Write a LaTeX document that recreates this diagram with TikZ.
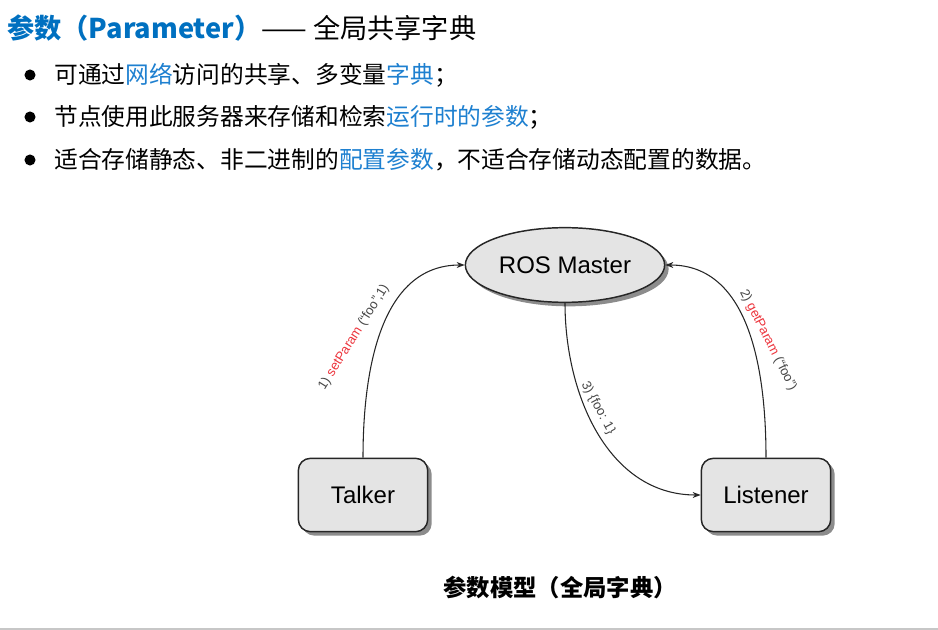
\documentclass[tikz,border=0pt]{standalone}
\usepackage{fontspec}
\setmainfont{Liberation Sans}
\newfontfamily\cjk{Noto Sans CJK SC}
\definecolor{main}{RGB}{0, 112, 192}
\definecolor{hilite}{RGB}{30, 128, 208}
\definecolor{shade}{RGB}{228, 228, 228}
\definecolor{redtxt}{RGB}{236, 52, 60}
\definecolor{lbltxt}{RGB}{70, 70, 70}
\usetikzlibrary{shapes.geometric, arrows.meta, positioning, shadows}

\begin{document}
\begin{tikzpicture}[
        x=0.75pt, y=-0.75pt,
        box/.style={draw=black!85, line width=1.1pt, rounded corners=9pt, fill=shade, minimum width=97pt, minimum height=55pt, font=\fontsize{18}{20}\selectfont, drop shadow={shadow xshift=3pt, shadow yshift=-3pt, opacity=0.45, fill=black}},
        oval/.style={box, ellipse, rounded corners=0pt, minimum width=135pt, minimum height=56pt},
        arr/.style={-{Stealth[length=6pt, width=4.5pt]}, line width=0.8pt, black!85},
        lbl/.style={font=\fontsize{9.8}{11}\selectfont, text=lbltxt, inner sep=0pt},
        txt/.style={anchor=west, inner sep=0pt, font=\cjk\fontsize{17.8}{20}\selectfont},
        dot/.style={circle, fill=black, inner sep=0pt, minimum size=8.3pt}
    ]
        \useasboundingbox (0,0) rectangle (938,630);
        \fill[black!22] (0,628) rectangle (938,630);
        % heading and list
        \node[txt, font=\cjk\fontsize{20.4}{24}\selectfont] (title) at (7,28) {\textcolor{main}{\bfseries 参数（Parameter）}—— 全局共享字典};
        \foreach \y/\item [count=\i] in {
            75/{可通过\textcolor{hilite}{网络}访问的共享、多变量\textcolor{hilite}{字典}；},
            117/{节点使用此服务器来存储和检索\textcolor{hilite}{运行时的参数}；},
            160/{适合存储静态、非二进制的\textcolor{hilite}{配置参数}，不适合存储动态配置的数据。}} {
            \node[dot] (dot\i) at (30,\y) {};
            \node[txt] (item\i) at (54,\y) {\item};
        }
        % parameter model
        \node[oval] (master) at (565,265) {ROS Master};
        \node[box] (talker) at (363,495) {Talker};
        \node[box] (listener) at (766,495) {Listener};
        \draw[arr] (talker.north) to[out=90, in=180] (master.west);
        \draw[arr] (listener.north) to[out=90, in=0] (master.east);
        \draw[arr] (master.south) to[out=-90, in=180] (listener.west);
        \node[lbl, rotate=58] (set) at (354,337) {1) \textcolor{redtxt}{setParam} (“foo”,1)};
        \node[lbl, rotate=-63] (get) at (768,340) {2) \textcolor{redtxt}{getParam} (“foo”)};
        \node[lbl, rotate=-62] (reply) at (598,408) {3) \{foo: 1\}};
        \node[font=\cjk\bfseries\fontsize{17.5}{20}\selectfont, inner sep=0pt] (caption) at (560,588) {参数模型（全局字典）};
    \end{tikzpicture}
\end{document}
